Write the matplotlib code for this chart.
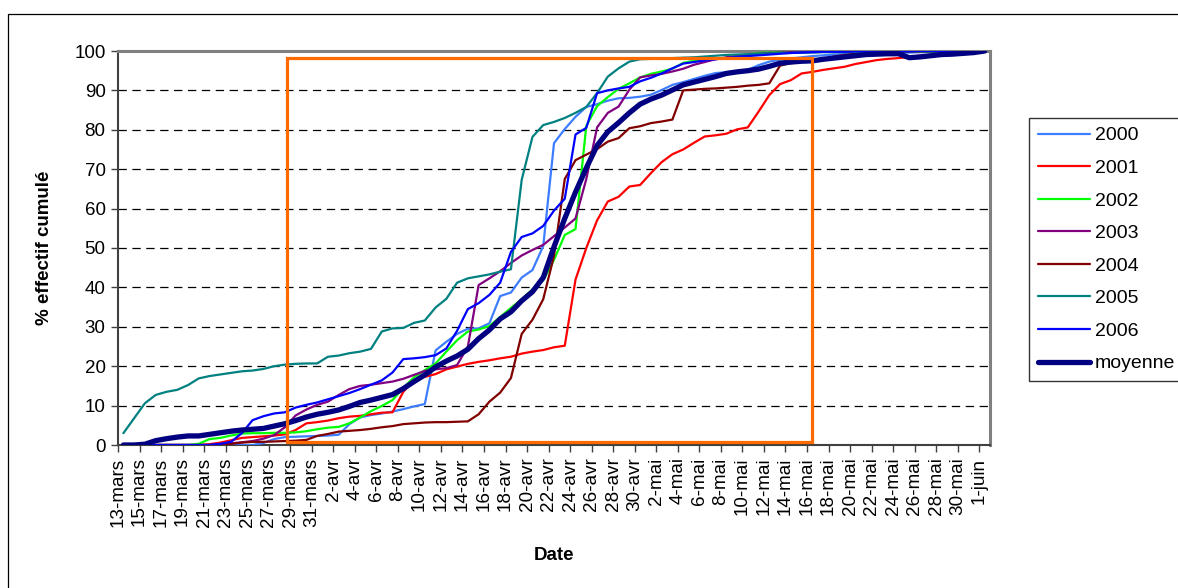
import numpy as np
import matplotlib
matplotlib.use("Agg")
import matplotlib.pyplot as plt
from matplotlib.patches import Rectangle

plt.rcParams['font.family'] = ['Liberation Sans', 'DejaVu Sans']
plt.rcParams['lines.scale_dashes'] = False

# ---------------- data ----------------
tick_labels = ["13-mars", "15-mars", "17-mars", "19-mars", "21-mars", "23-mars",
               "25-mars", "27-mars", "29-mars", "31-mars",
               "2-avr", "4-avr", "6-avr", "8-avr", "10-avr", "12-avr", "14-avr",
               "16-avr", "18-avr", "20-avr", "22-avr", "24-avr", "26-avr",
               "28-avr", "30-avr",
               "2-mai", "4-mai", "6-mai", "8-mai", "10-mai", "12-mai", "14-mai",
               "16-mai", "18-mai", "20-mai", "22-mai", "24-mai", "26-mai",
               "28-mai", "30-mai", "1-juin"]

series_names = ["2000", "2001", "2002", "2003", "2004", "2005", "2006", "moyenne"]

s2000 = [0, 0, 0, 0, 0, 0, 0, 0, 0, 0, 0, 0, 0, 0.5, 1.5, 2.0, 2.1, 2.2, 2.3, 2.4,
         2.6, 5.3, 7.0, 7.6, 8.0, 8.5, 9.1, 9.8, 10.4, 24.0, 26.2, 28.2, 29.5, 29.6, 30.9, 37.8, 38.7, 42.5, 44.4, 50.5,
         76.6, 80.2, 83.3, 85.8, 86.5, 87.4, 88.0, 88.1, 88.4, 88.9, 90.1, 91.4, 92.1, 92.9, 93.7, 94.4, 94.6, 94.8, 95.2, 96.4,
         97.3, 97.8, 98.1, 98.4, 98.7, 98.9, 99.1, 99.2, 99.3, 99.4, 99.5, 99.5, 99.6, 99.6, 99.7, 99.7, 99.8, 99.8, 99.9, 99.9,
         100]
s2001 = [0, 0, 0, 0, 0, 0, 0, 0, 0.2, 0.6, 1.2, 1.8, 2.0, 2.2, 2.4, 2.7, 3.8, 5.5, 5.8, 6.2,
         6.8, 7.2, 7.4, 7.8, 8.2, 8.3, 13.5, 16.5, 17.3, 18.0, 19.2, 19.9, 20.6, 21.1, 21.5, 22.0, 22.4, 23.2, 23.7, 24.1,
         24.8, 25.2, 42.0, 50.0, 57.0, 61.8, 63.0, 65.6, 66.0, 69.0, 71.8, 73.8, 75.0, 76.7, 78.3, 78.6, 79.0, 80.1, 80.6, 84.6,
         88.8, 91.6, 92.6, 94.3, 94.7, 95.2, 95.6, 96.0, 96.7, 97.2, 97.7, 98.0, 98.2, 98.5, 98.8, 99.0, 99.2, 99.4, 99.6, 99.8,
         100]
s2002 = [0, 0, 0, 0, 0, 0, 0, 0.3, 1.5, 1.8, 2.4, 2.9, 3.0, 3.0, 3.1, 3.1, 3.2, 3.5, 4.0, 4.4,
         4.6, 5.5, 7.0, 8.6, 9.9, 11.4, 14.5, 17.2, 19.0, 20.7, 23.7, 26.6, 28.8, 29.3, 30.2, 32.5, 34.8, 37.0, 39.5, 41.8,
         47.0, 53.3, 54.8, 81.0, 86.0, 88.3, 90.4, 91.8, 93.3, 94.2, 94.8, 95.5, 97.0, 97.5, 97.8, 98.0, 98.2, 98.5, 99.0, 99.5,
         99.6, 99.7, 99.7, 99.7, 99.8, 99.8, 99.8, 99.8, 99.8, 99.9, 99.9, 99.9, 99.9, 99.9, 99.9, 99.9, 100, 100, 100, 100,
         100]
s2003 = [0, 0, 0, 0, 0, 0, 0, 0, 0, 0.2, 0.4, 0.7, 1.0, 1.6, 2.5, 4.5, 7.5, 9.0, 10.2, 11.0,
         12.7, 14.2, 15.0, 15.3, 15.7, 16.1, 16.8, 17.8, 18.8, 19.2, 19.5, 20.3, 25.0, 40.6, 42.3, 44.1, 46.2, 48.1, 49.5, 50.8,
         53.0, 55.2, 57.5, 67.5, 80.6, 84.3, 85.9, 90.2, 93.3, 93.8, 94.2, 94.8, 95.5, 96.5, 97.2, 97.9, 98.4, 98.8, 99.1, 99.3,
         99.5, 99.6, 99.7, 99.7, 99.8, 99.8, 99.8, 99.8, 99.9, 99.9, 99.9, 99.9, 99.9, 99.9, 99.9, 100, 100, 100, 100, 100,
         100]
s2004 = [0, 0, 0, 0, 0, 0, 0, 0, 0, 0.1, 0.3, 0.6, 0.8, 0.8, 0.9, 1.0, 1.1, 1.3, 2.3, 2.8,
         3.4, 3.6, 3.8, 4.1, 4.5, 4.8, 5.3, 5.5, 5.7, 5.8, 5.8, 5.9, 6.0, 7.8, 11.0, 13.3, 17.0, 28.2, 31.8, 37.0,
         48.0, 67.5, 72.3, 73.7, 75.1, 77.0, 77.9, 80.4, 80.9, 81.7, 82.1, 82.6, 90.0, 90.2, 90.4, 90.5, 90.7, 90.9, 91.2, 91.4,
         91.8, 96.3, 96.9, 97.2, 97.5, 98.0, 98.6, 99.0, 99.3, 99.6, 99.7, 99.8, 99.8, 99.8, 99.9, 99.9, 99.9, 99.9, 100, 100,
         100]
s2005 = [3.0, 6.8, 10.6, 12.7, 13.5, 14.0, 15.2, 16.9, 17.5, 17.9, 18.3, 18.7, 18.9, 19.3, 20.0, 20.4, 20.6, 20.7, 20.7, 22.4,
         22.7, 23.3, 23.7, 24.4, 28.8, 29.6, 29.7, 31.0, 31.6, 34.9, 37.1, 41.2, 42.3, 42.8, 43.3, 44.0, 44.6, 67.3, 78.2, 81.2,
         82.0, 83.0, 84.3, 85.8, 89.3, 93.5, 95.6, 97.3, 97.9, 98.0, 98.1, 98.2, 98.3, 98.4, 98.6, 98.8, 99.0, 99.1, 99.2, 99.3,
         99.4, 99.5, 99.5, 99.6, 99.6, 99.7, 99.7, 99.7, 99.8, 99.8, 99.8, 99.8, 99.9, 99.9, 99.9, 99.9, 99.9, 99.9, 100, 100,
         100]
s2006 = [0, 0, 0, 0, 0, 0, 0, 0, 0, 0.3, 0.8, 3.0, 6.3, 7.3, 8.0, 8.3, 9.5, 10.2, 10.8, 11.6,
         12.4, 13.2, 14.2, 15.3, 16.4, 18.4, 21.8, 22.0, 22.3, 22.8, 24.5, 29.0, 34.5, 36.0, 38.1, 41.2, 49.0, 52.8, 53.7, 55.6,
         59.5, 62.5, 78.8, 80.5, 89.3, 90.0, 90.5, 90.9, 92.3, 93.2, 94.3, 95.6, 96.8, 97.2, 97.6, 97.9, 98.2, 98.5, 98.7, 98.9,
         99.1, 99.3, 99.5, 99.6, 99.7, 99.8, 99.8, 99.8, 99.9, 99.9, 99.9, 99.9, 99.9, 99.9, 100, 100, 100, 100, 100, 100,
         100]
moyenne = [0, 0, 0.2, 1.1, 1.6, 2.0, 2.3, 2.3, 2.7, 3.1, 3.5, 3.8, 4.0, 4.2, 4.8, 5.4, 6.2, 7.1, 7.8, 8.3,
           8.9, 9.8, 10.8, 11.4, 12.1, 12.8, 14.3, 16.1, 17.8, 19.8, 21.3, 22.6, 24.3, 27.0, 29.2, 32.0, 33.8, 36.6, 38.9, 42.5,
           50.3, 57.5, 64.2, 70.3, 76.0, 79.5, 81.8, 84.3, 86.5, 87.8, 88.8, 90.1, 91.4, 92.1, 92.8, 93.5, 94.3, 94.7, 95.0, 95.4,
           96.1, 96.9, 97.2, 97.4, 97.5, 97.9, 98.2, 98.5, 98.8, 99.1, 99.2, 99.3, 99.3, 98.3, 98.5, 98.8, 99.1, 99.2, 99.4, 99.6,
           100]

series_values = [s2000, s2001, s2002, s2003, s2004, s2005, s2006, moyenne]
series_colors = ["#3D7DFF", "#FF0000", "#00FF00", "#800080", "#800000", "#008080", "#0000FF", "#000080"]
series_widths = [1.6, 1.6, 1.6, 1.6, 1.6, 1.6, 1.6, 3.8]

# highlighted period (drawn frame), in axis units (days, %)
frame_x0, frame_x1 = 15.66, 64.5
frame_y0, frame_y1 = 0.8, 98.3

# ---------------- figure ----------------
W, H = 1178, 588
fig = plt.figure(figsize=(W / 100, H / 100), dpi=100)
ax = fig.add_axes([118 / W, 1 - 445 / H, (990 - 118) / W, (445 - 51) / H])

n_days = len(moyenne)
xpos = np.arange(n_days) + 0.5
for name, vals, col, lw in zip(series_names, series_values, series_colors, series_widths):
    ax.plot(xpos, vals, color=col, lw=lw, label=name, solid_joinstyle='round',
            solid_capstyle='round', zorder=3)

ax.set_xlim(0, n_days)
ax.set_ylim(0, 100)
ax.set_yticks(np.arange(0, 101, 10))
ax.set_xticks(np.arange(0, n_days, 2))
ax.set_xticklabels(tick_labels, rotation=90, fontsize=13.6, va='top', ha='center')
ax.tick_params(axis='y', labelsize=13.5, direction='out', length=5, width=1, color='#404040', pad=4)
ax.tick_params(axis='x', direction='out', length=5, width=1, color='#404040', pad=4)

ax.yaxis.grid(True, color='black', linestyle=(0, (6, 4)), lw=0.9, zorder=0)
ax.set_axisbelow(True)

for side in ('top', 'right'):
    ax.spines[side].set_color('#808080')
    ax.spines[side].set_linewidth(2.2)
for side in ('left', 'bottom'):
    ax.spines[side].set_color('#404040')
    ax.spines[side].set_linewidth(1.5)

ax.add_patch(Rectangle((frame_x0, frame_y0), frame_x1 - frame_x0, frame_y1 - frame_y0,
                       fill=False, ec='#FF6A00', lw=2.3, zorder=5, clip_on=False))

fig.text(45 / W, 1 - 248 / H, '% effectif cumulé', rotation=90, ha='center', va='center',
         fontsize=13.5, fontweight='bold')
fig.text(554 / W, 1 - 555 / H, 'Date', ha='center', va='center', fontsize=13.5, fontweight='bold')

# outer chart frame
fig.patches.append(Rectangle((8 / W, -0.05), 1.2, 1 - 14 / H + 0.05, transform=fig.transFigure,
                             fill=False, ec='black', lw=0.9))

leg = fig.legend(loc='upper left', bbox_to_anchor=(1029 / W, 1 - 118 / H), frameon=True,
                 fancybox=False, edgecolor='black', fontsize=14, handlelength=2.7,
                 handletextpad=0.25, labelspacing=0.77, borderpad=0.45, borderaxespad=0)
leg.get_frame().set_linewidth(1.0)

fig.savefig('out.png', dpi=100)
